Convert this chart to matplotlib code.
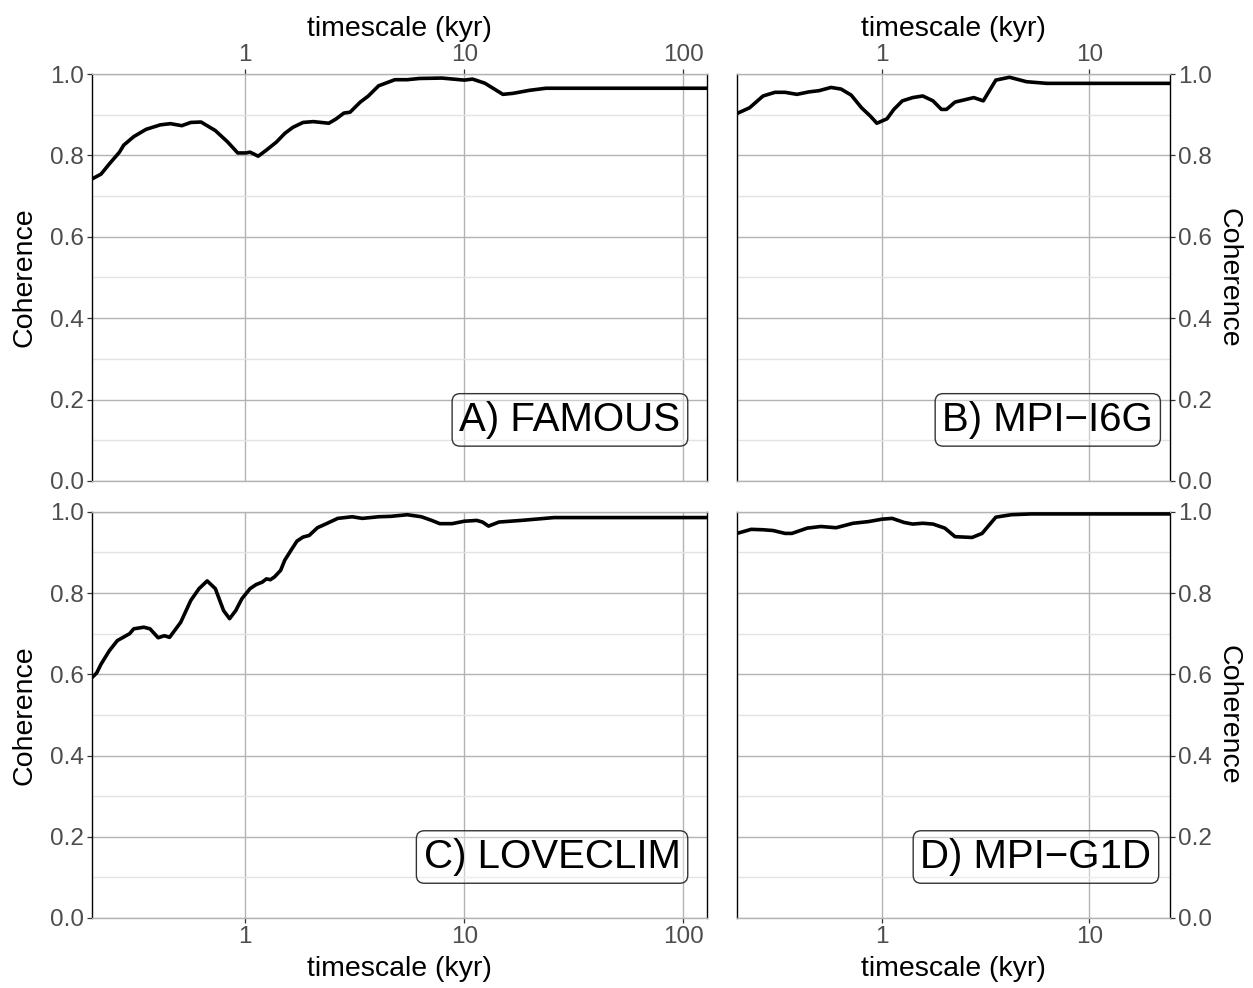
import matplotlib.pyplot as plt
from matplotlib.ticker import FixedLocator, NullLocator

plt.rcParams['font.family'] = ['Liberation Sans', 'DejaVu Sans']

# coherence vs timescale (kyr)
famous_x = [0.2, 0.22, 0.24, 0.267, 0.279, 0.31, 0.353, 0.41, 0.456, 0.514, 0.565, 0.629,
            0.731, 0.832, 0.925, 1.009, 1.053, 1.147, 1.25, 1.391, 1.516, 1.652, 1.838,
            2.047, 2.409, 2.59, 2.823, 3.01, 3.352, 3.65, 4.064, 4.824, 5.486, 6.24, 7.9,
            10.0, 10.9, 12.4, 15.0, 16.7, 19.9, 23.6, 128]
famous_y = [0.742, 0.754, 0.779, 0.808, 0.825, 0.846, 0.864, 0.875, 0.878, 0.873, 0.881, 0.882,
            0.861, 0.833, 0.806, 0.806, 0.808, 0.798, 0.813, 0.833, 0.854, 0.869, 0.881,
            0.883, 0.879, 0.889, 0.904, 0.906, 0.931, 0.946, 0.971, 0.986, 0.986, 0.989, 0.99,
            0.985, 0.9875, 0.9775, 0.95, 0.9525, 0.96, 0.965, 0.965]

i6g_x = [0.2, 0.23, 0.267, 0.305, 0.341, 0.389, 0.444, 0.497, 0.568, 0.635, 0.711, 0.797,
         0.877, 0.945, 1.058, 1.141, 1.254, 1.405, 1.573, 1.762, 1.935, 2.048, 2.25, 2.474,
         2.771, 3.08, 3.54, 4.12, 4.98, 6.24, 7.68, 24.5]
i6g_y = [0.903, 0.917, 0.946, 0.955, 0.955, 0.95, 0.956, 0.959, 0.967, 0.963, 0.948, 0.917,
         0.897, 0.879, 0.89, 0.913, 0.934, 0.942, 0.946, 0.934, 0.913, 0.913, 0.931, 0.936,
         0.942, 0.934, 0.985, 0.992, 0.981, 0.977, 0.977, 0.977]

loveclim_x = [0.2, 0.21, 0.22, 0.24, 0.261, 0.297, 0.31, 0.345, 0.368, 0.401, 0.428, 0.452,
              0.508, 0.565, 0.616, 0.671, 0.731, 0.797, 0.849, 0.906, 0.966, 1.053, 1.122,
              1.197, 1.25, 1.304, 1.362, 1.452, 1.516, 1.617, 1.723, 1.838, 1.96, 2.137,
              2.328, 2.646, 3.078, 3.424, 4.064, 4.62, 5.49, 6.37, 7.1, 7.73, 8.79, 10.0,
              11.4, 12.1, 12.9, 14.4, 18.2, 25.7, 128]
loveclim_y = [0.592, 0.603, 0.625, 0.658, 0.683, 0.7, 0.712, 0.716, 0.712, 0.69, 0.695, 0.691,
              0.728, 0.782, 0.811, 0.83, 0.811, 0.757, 0.737, 0.757, 0.786, 0.811, 0.821,
              0.827, 0.835, 0.833, 0.84, 0.856, 0.881, 0.905, 0.928, 0.938, 0.942, 0.961,
              0.97, 0.984, 0.988, 0.984, 0.988, 0.989, 0.993, 0.988, 0.979, 0.971, 0.971, 0.977,
              0.979, 0.975, 0.965, 0.975, 0.979, 0.986, 0.986]

g1d_x = [0.2, 0.234, 0.267, 0.299, 0.341, 0.368, 0.436, 0.507, 0.601, 0.726, 0.859, 1.0,
         1.12, 1.278, 1.405, 1.573, 1.762, 2.01, 2.25, 2.72, 3.04, 3.54, 4.2, 5.27, 7.12, 24.5]
g1d_y = [0.947, 0.957, 0.956, 0.954, 0.947, 0.947, 0.96, 0.964, 0.961, 0.972, 0.976, 0.982,
         0.984, 0.974, 0.97, 0.972, 0.97, 0.96, 0.939, 0.937, 0.947, 0.987, 0.993, 0.995,
         0.995, 0.995]

panels = [
    # (x, y, label, xmax, axes rect, y side, x side, label x in axes coords)
    (famous_x, famous_y, 'A) FAMOUS', 128, [0.0734, 0.5132, 0.4908, 0.4119], 'left', 'top', 0.957),
    (i6g_x, i6g_y, 'B) MPI\u2212I6G', 24.5, [0.5882, 0.5132, 0.3456, 0.4119], 'right', 'top', 0.961),
    (loveclim_x, loveclim_y, 'C) LOVECLIM', 128, [0.0734, 0.0709, 0.4908, 0.4110], 'left', 'bottom', 0.957),
    (g1d_x, g1d_y, 'D) MPI\u2212G1D', 24.5, [0.5882, 0.0709, 0.3456, 0.4110], 'right', 'bottom', 0.957),
]

major_grid = '#b3b3b3'
minor_grid = '#e3e3e3'

fig = plt.figure(figsize=(12.53, 9.88), dpi=100)

for xs, ys, label, xmax, rect, yside, xside, lx in panels:
    ax = fig.add_axes(rect)
    ax.plot(xs, ys, color='black', lw=2.6, solid_joinstyle='round', zorder=3)
    ax.set_xscale('log')
    ax.set_xlim(0.2, xmax)
    ax.set_ylim(0, 1)

    xt = [1, 10, 100] if xmax > 100 else [1, 10]
    ax.xaxis.set_major_locator(FixedLocator(xt))
    ax.xaxis.set_minor_locator(NullLocator())
    ax.set_xticklabels([str(v) for v in xt])
    ax.yaxis.set_major_locator(FixedLocator([0, 0.2, 0.4, 0.6, 0.8, 1.0]))
    ax.yaxis.set_minor_locator(FixedLocator([0.1, 0.3, 0.5, 0.7, 0.9]))
    ax.set_yticklabels(['0.0', '0.2', '0.4', '0.6', '0.8', '1.0'])

    ax.grid(True, which='major', color=major_grid, lw=1.0, zorder=0)
    ax.grid(True, which='minor', axis='y', color=minor_grid, lw=1.0, zorder=0)
    ax.set_axisbelow(True)

    for s in ['left', 'right']:
        ax.spines[s].set_color('black')
        ax.spines[s].set_linewidth(1.0)
    for s in ['top', 'bottom']:
        ax.spines[s].set_color(major_grid)
        ax.spines[s].set_linewidth(1.0)

    ax.tick_params(which='major', length=3.8, width=0.9, color='#333333',
                   labelcolor='#4d4d4d', labelsize=17.5, pad=2)
    ax.tick_params(which='minor', length=0)

    if yside == 'right':
        ax.yaxis.tick_right()
        ax.yaxis.set_label_position('right')
        ax.set_ylabel('Coherence', fontsize=20.5, rotation=-90, labelpad=21)
    else:
        ax.set_ylabel('Coherence', fontsize=20.5, labelpad=9)

    if xside == 'top':
        ax.xaxis.tick_top()
        ax.xaxis.set_label_position('top')
    ax.set_xlabel('timescale (kyr)', fontsize=20.5, labelpad=6)

    ax.text(lx, 0.123, label, transform=ax.transAxes, ha='right', va='baseline',
            fontsize=29, color='black', zorder=4,
            bbox=dict(boxstyle='round,pad=0.18,rounding_size=0.2', fc=(1, 1, 1, 0.35),
                      ec='#333333', lw=1.0))

fig.savefig('out.png', dpi=100)
